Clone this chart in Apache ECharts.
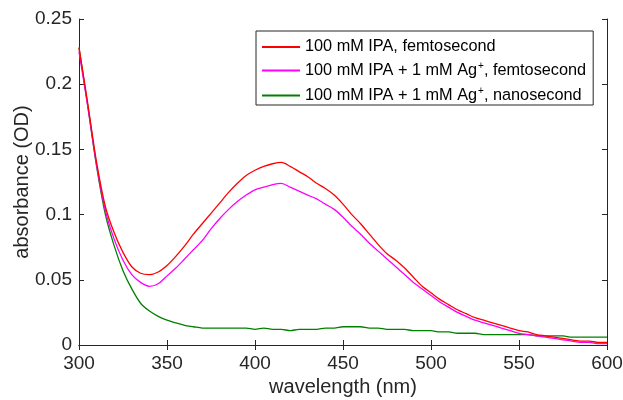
<!DOCTYPE html>
<html><head><meta charset="utf-8">
<script src="https://cdn.jsdelivr.net/npm/echarts@6/dist/echarts.min.js"></script>
<style>html,body{margin:0;padding:0;background:#fff}#c{width:623px;height:400px}</style>
</head><body><div id="c"></div>
<script>
const wavelength = [300,305,310,315,320,325,330,335,340,345,350,355,360,365,370,375,380,385,390,395,400,405,410,415,420,425,430,435,440,445,450,455,460,465,470,475,480,485,490,495,500,505,510,515,520,525,530,535,540,545,550,555,560,565,570,575,580,585,590,595,600];
const ipaFemto = [0.228,0.185,0.140,0.106,0.086,0.071,0.060,0.055,0.054,0.056,0.061,0.068,0.076,0.085,0.093,0.101,0.109,0.117,0.124,0.130,0.134,0.137,0.139,0.140,0.137,0.133,0.129,0.124,0.120,0.115,0.108,0.100,0.093,0.085,0.077,0.070,0.065,0.059,0.052,0.045,0.040,0.035,0.031,0.027,0.024,0.021,0.019,0.017,0.015,0.013,0.011,0.010,0.008,0.007,0.006,0.005,0.004,0.003,0.003,0.002,0.002];
const agFemto = [0.225,0.183,0.138,0.103,0.081,0.065,0.054,0.048,0.045,0.047,0.053,0.059,0.066,0.073,0.080,0.089,0.097,0.104,0.110,0.115,0.119,0.121,0.123,0.124,0.121,0.118,0.115,0.112,0.108,0.104,0.098,0.091,0.085,0.078,0.072,0.066,0.060,0.054,0.048,0.043,0.038,0.033,0.029,0.025,0.022,0.019,0.017,0.015,0.013,0.011,0.009,0.008,0.007,0.006,0.005,0.004,0.003,0.002,0.002,0.001,0.001];
const agNano = [0.228,0.183,0.137,0.100,0.076,0.057,0.043,0.032,0.026,0.022,0.019,0.017,0.015,0.014,0.013,0.013,0.013,0.013,0.013,0.013,0.012,0.013,0.012,0.012,0.011,0.012,0.012,0.012,0.013,0.013,0.014,0.014,0.014,0.013,0.013,0.012,0.012,0.012,0.011,0.011,0.011,0.010,0.010,0.009,0.009,0.009,0.008,0.008,0.008,0.008,0.008,0.008,0.007,0.007,0.007,0.007,0.006,0.006,0.006,0.006,0.006];
const seriesNames = ['100 mM IPA, femtosecond','100 mM IPA + 1 mM Ag+, femtosecond','100 mM IPA + 1 mM Ag+, nanosecond'];
const colors = ['#ff0000','#ff00ff','#008000'];

const font = 'Liberation Sans, Arial, Helvetica, sans-serif';
const axisCol = '#262626';
function pairs(ys){ return wavelength.map((x,i)=>[x,ys[i]]); }
const chart = echarts.init(document.getElementById('c'));
const baseX = {type:'value',min:300,max:600,interval:50,
  axisLine:{show:true,lineStyle:{color:axisCol,width:1}},
  axisTick:{show:true,inside:true,length:5,lineStyle:{color:axisCol}},
  splitLine:{show:false}};
const baseY = {type:'value',min:0,max:0.25,interval:0.05,
  axisLine:{show:true,lineStyle:{color:axisCol,width:1}},
  axisTick:{show:true,inside:true,length:5,lineStyle:{color:axisCol}},
  splitLine:{show:false}};
chart.setOption({
  animation:false,
  backgroundColor:'#fff',
  grid:{left:79,right:16,top:19,bottom:55,containLabel:false,outerBoundsMode:'none'},
  xAxis:[
    Object.assign({},baseX,{position:'bottom',name:'wavelength (nm)',nameLocation:'middle',nameGap:32,nameMoveOverlap:false,
      nameTextStyle:{fontFamily:font,fontSize:20,color:axisCol},
      axisLabel:{fontFamily:font,fontSize:19,color:axisCol,margin:9}}),
    Object.assign({},baseX,{position:'top',axisLabel:{show:false}})
  ],
  yAxis:[
    Object.assign({},baseY,{position:'left',name:'absorbance (OD)',nameLocation:'middle',nameGap:47,nameMoveOverlap:false,
      nameTextStyle:{fontFamily:font,fontSize:20,color:axisCol},
      axisLabel:{fontFamily:font,fontSize:19,color:axisCol,margin:7}}),
    Object.assign({},baseY,{position:'right',axisLabel:{show:false}})
  ],
  legend:{
    orient:'vertical',left:256,top:31,
    padding:[8,7,0,6],itemGap:6,itemWidth:38,itemHeight:2,
    backgroundColor:'#fff',borderColor:'#262626',borderWidth:1,borderRadius:0,
    icon:'rect',
    data:seriesNames,
    formatter:function(n){
      if(n.indexOf('Ag+')>=0){
        const parts=n.split('Ag+');
        return '{t|'+parts[0]+'Ag}{s|+}{t|'+parts[1]+'}';
      }
      return '{t|'+n+'}';
    },
    textStyle:{rich:{
      t:{fontFamily:font,fontSize:16.3,color:'#000',lineHeight:19},
      s:{fontFamily:font,fontSize:10,color:'#000',verticalAlign:'top',lineHeight:19,padding:[0,0,9,1]}
    }}
  },
  series:[ipaFemto,agFemto,agNano].map((d,i)=>({
    name:seriesNames[i],type:'line',data:pairs(d),showSymbol:false,symbol:'none',
    smooth:0.3,lineStyle:{color:colors[i],width:1.3},itemStyle:{color:colors[i]},
    xAxisIndex:0,yAxisIndex:0,z:3-i
  }))
});
</script></body></html>
